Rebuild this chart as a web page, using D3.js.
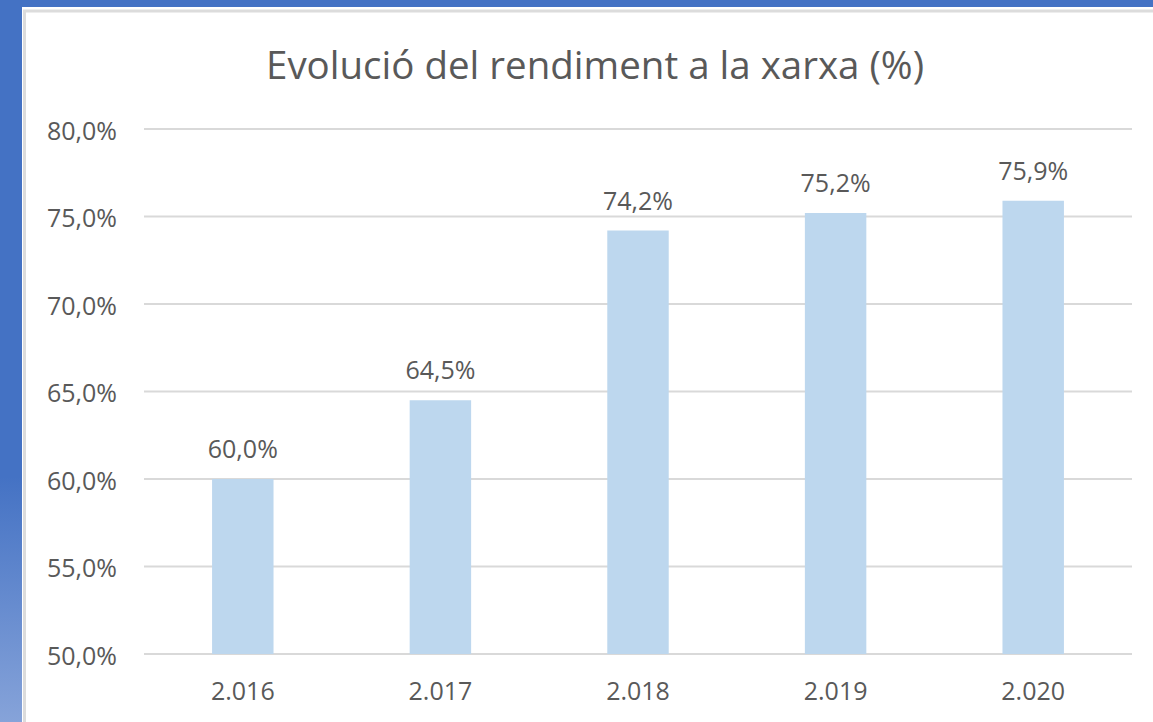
<!DOCTYPE html>
<html>
<head>
<meta charset="utf-8">
<script src="https://cdn.jsdelivr.net/npm/d3@7"></script>
<style>
  html, body { margin: 0; padding: 0; background: #fff; }
  svg { display: block; }
  text { font-family: "Open Sans", "Liberation Sans", sans-serif; fill: #595959; }
</style>
</head>
<body>
<svg id="chart" width="1153" height="722"></svg>
<script>
const title = "Evolució del rendiment a la xarxa (%)";
const categories = ["2.016", "2.017", "2.018", "2.019", "2.020"];
const values = [60.0, 64.5, 74.2, 75.2, 75.9];
const yTicks = [50, 55, 60, 65, 70, 75, 80];

const W = 1153, H = 722;
const svg = d3.select("#chart");

const loc = d3.formatLocale({decimal: ",", thousands: ".", grouping: [3], currency: ["", " €"]});
const fmt = v => loc.format(".1f")(v) + "%";

// background frame
const defs = svg.append("defs");
const grad = defs.append("linearGradient").attr("id", "bg").attr("x1", 0).attr("y1", 0).attr("x2", 0).attr("y2", 1);
grad.append("stop").attr("offset", "0").attr("stop-color", "#4472C4");
grad.append("stop").attr("offset", "0.66").attr("stop-color", "#4472C4");
grad.append("stop").attr("offset", "1").attr("stop-color", "#86A3D9");
svg.append("rect").attr("x", 0).attr("y", 0).attr("width", W).attr("height", H).attr("fill", "url(#bg)");
svg.append("rect").attr("x", 22).attr("y", 7).attr("width", W).attr("height", H).attr("fill", "#ffffff");
svg.append("rect").attr("x", 24.5).attr("y", 11).attr("width", W + 20).attr("height", H + 20)
  .attr("fill", "none").attr("stroke", "#DCDCDC").attr("stroke-width", 3);

// scales
const x = d3.scaleBand().domain(categories).range([144, 1132]).paddingInner(0.689).paddingOuter(0.3445);
const y = d3.scaleLinear().domain([50, 80]).range([654, 129]);

// gridlines
svg.append("g").selectAll("line").data(yTicks).join("line")
  .attr("x1", 144).attr("x2", 1132)
  .attr("y1", d => y(d)).attr("y2", d => y(d))
  .attr("stroke", "#D9D9D9").attr("stroke-width", 2);

// y axis labels
const yAxis = d3.axisLeft(y).tickValues(yTicks).tickFormat(fmt).tickSize(0).tickPadding(0);
const gy = svg.append("g").attr("transform", "translate(117,0)").call(yAxis);
gy.select(".domain").remove();
gy.selectAll("text").attr("font-size", 25).attr("fill", "#595959")
  .attr("font-family", "'Open Sans', 'Liberation Sans', sans-serif")
  .attr("dy", null).attr("dominant-baseline", "central");

// bars
svg.append("g").selectAll("rect").data(values).join("rect")
  .attr("x", (d, i) => x(categories[i]))
  .attr("width", x.bandwidth())
  .attr("y", d => y(d))
  .attr("height", d => y(50) - y(d))
  .attr("fill", "#BDD7EE");

// value labels
svg.append("g").selectAll("text").data(values).join("text")
  .attr("x", (d, i) => x(categories[i]) + x.bandwidth() / 2)
  .attr("y", d => y(d) - 21)
  .attr("text-anchor", "middle")
  .attr("font-size", 25)
  .text(d => fmt(d));

// x axis labels
const xAxis = d3.axisBottom(x).tickSize(0).tickPadding(0);
const gx = svg.append("g").attr("transform", "translate(0,700)").call(xAxis);
gx.select(".domain").remove();
gx.selectAll("text").attr("font-size", 25).attr("fill", "#595959")
  .attr("font-family", "'Open Sans', 'Liberation Sans', sans-serif")
  .attr("dy", null).attr("y", 0);

// title
svg.append("text")
  .attr("x", 595).attr("y", 79)
  .attr("text-anchor", "middle")
  .attr("font-size", 38)
  .attr("textLength", 658).attr("lengthAdjust", "spacingAndGlyphs")
  .text(title);
</script>
</body>
</html>
